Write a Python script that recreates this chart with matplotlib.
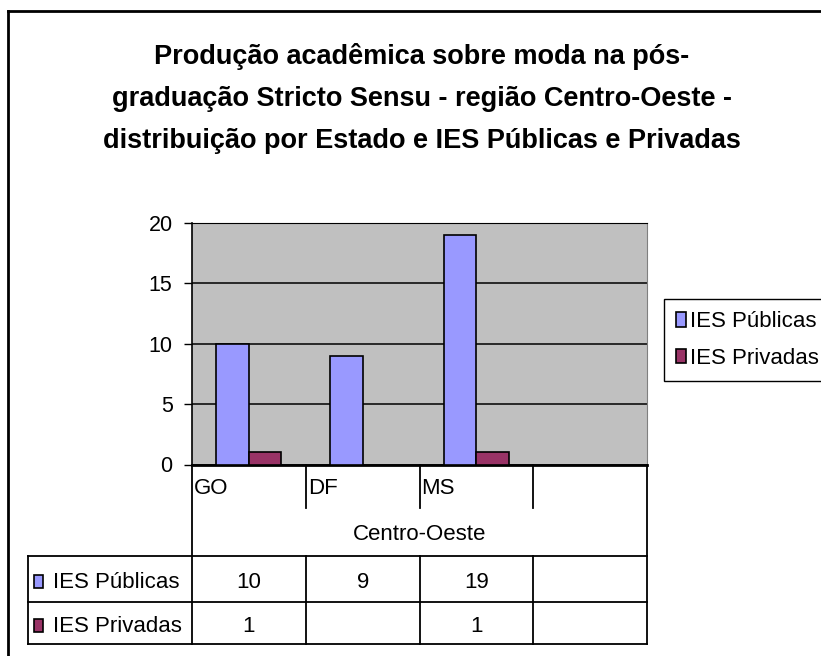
import matplotlib.pyplot as plt
import numpy as np
from matplotlib.patches import Rectangle

plt.rcParams['font.family'] = ['Liberation Sans', 'DejaVu Sans']

estados = ['GO', 'DF', 'MS', '']
regiao = 'Centro-Oeste'
series = ['IES Públicas', 'IES Privadas']
publicas = [10, 9, 19, None]
privadas = [1, None, 1, None]
cores = ['#9999FF', '#993366']
titulo = ('Produção acadêmica sobre moda na pós-\n'
          'graduação Stricto Sensu - região Centro-Oeste -\n'
          'distribuição por Estado e IES Públicas e Privadas')

W, H = 821, 656
fig = plt.figure(figsize=(W / 100, H / 100), dpi=100)

# plot area in pixels
px0, px1, py0, py1 = 192, 647, 223, 464.5
ax = fig.add_axes([px0 / W, 1 - py1 / H, (px1 - px0) / W, (py1 - py0) / H])
ax.set_facecolor('#C0C0C0')

vals = [np.array([np.nan if v is None else v for v in s], dtype=float)
        for s in (publicas, privadas)]
x = np.arange(len(estados))
bw = 0.285
for k, (v, c, nome) in enumerate(zip(vals, cores, series)):
    ax.bar(x + (k - 0.5) * bw, v, bw, color=c, edgecolor='black',
           linewidth=1.2, label=nome, zorder=3)

ax.set_xlim(-0.5, len(estados) - 0.5)
ax.set_ylim(0, 20)
ax.set_yticks([0, 5, 10, 15, 20])
ax.set_xticks([])
ax.tick_params(axis='y', direction='out', length=6, width=1, pad=8,
               labelsize=15.5)
ax.yaxis.grid(True, color='black', linewidth=1.1, zorder=1)
ax.set_axisbelow(True)
ax.spines['left'].set_linewidth(1.2)
ax.spines['bottom'].set_linewidth(2)
ax.spines['top'].set_color('black')
ax.spines['right'].set_color('#808080')

ax.legend(loc='upper left', bbox_to_anchor=(664 / W, 1 - 299 / H),
          bbox_transform=fig.transFigure, borderaxespad=0, fontsize=16,
          handlelength=0.45, handleheight=0.65, handletextpad=0.15,
          borderpad=0.55, labelspacing=0.7, frameon=True, fancybox=False,
          edgecolor='black', framealpha=1)

# overlay in pixel coordinates for table, border and title
ov = fig.add_axes([0, 0, 1, 1], zorder=5)
ov.set_xlim(0, W)
ov.set_ylim(H, 0)
ov.axis('off')
ov.patch.set_alpha(0)

# chart border (cropped at right and bottom)
ov.plot([8, W + 5], [11, 11], color='black', lw=2)
ov.plot([8, 8], [11, H + 5], color='black', lw=2)

ov.text(422, 43, titulo, ha='center', va='top', fontsize=19.5,
        fontweight='bold', linespacing=1.8)

# data table
n = len(estados)
cw = (px1 - px0) / n
cols = [px0 + i * cw for i in range(n + 1)]
rx0 = 28
yh, yr1, yr2 = 556, 602, 644
lk = dict(color='black', lw=1.3)
ov.plot([px0, px0], [py1, yr2], **lk)
ov.plot([px1, px1], [py1, yr2], **lk)
for cx in cols[1:-1]:
    ov.plot([cx, cx], [py1, 508], **lk)
    ov.plot([cx, cx], [yh, yr2], **lk)
ov.plot([rx0, rx0], [yh, yr2], **lk)
for yy in (yh, yr1, yr2):
    ov.plot([rx0, px1], [yy, yy], **lk)

for i, e in enumerate(estados):
    ov.text(cols[i] + 2, 488, e, ha='left', va='center', fontsize=16)
ov.text((px0 + px1) / 2, 534, regiao, ha='center', va='center', fontsize=16)

row_y = [(yh + yr1) / 2 + 3, (yr1 + yr2) / 2 + 3]
for s, nome, c, yy in zip((publicas, privadas), series, cores, row_y):
    ov.add_patch(Rectangle((34, yy - 7), 9, 13, facecolor=c,
                           edgecolor='black', lw=1.2))
    ov.text(53, yy, nome, ha='left', va='center', fontsize=16)
    for i, v in enumerate(s):
        if v is not None:
            ov.text((cols[i] + cols[i + 1]) / 2, yy, str(v), ha='center',
                    va='center', fontsize=16)

fig.savefig('out.png', dpi=100)
